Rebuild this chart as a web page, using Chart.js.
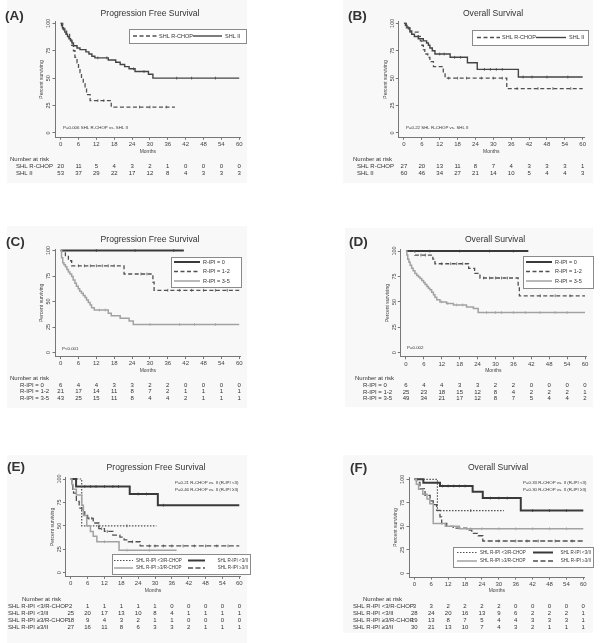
<!DOCTYPE html>
<html>
<head>
<meta charset="utf-8">
<script src="https://cdn.jsdelivr.net/npm/chart.js@4/dist/chart.umd.min.js"></script>
<style>
html, body { margin: 0; padding: 0; background: #fff; }
body { width: 602px; height: 643px; position: relative; overflow: hidden; }
.bg { position: absolute; background: #f8f8f8; }
canvas { position: absolute; }
</style>
</head>
<body>
<div class="bg" style="left:7px;top:0;width:240px;height:183px"></div>
<div class="bg" style="left:343px;top:0;width:250px;height:183px"></div>
<div class="bg" style="left:7px;top:226px;width:240px;height:182px"></div>
<div class="bg" style="left:345px;top:228px;width:248px;height:179px"></div>
<div class="bg" style="left:7px;top:455px;width:240px;height:188px"></div>
<div class="bg" style="left:343px;top:455px;width:250px;height:178px"></div>
<canvas id="cA"></canvas>
<canvas id="cB"></canvas>
<canvas id="cC"></canvas>
<canvas id="cD"></canvas>
<canvas id="cE"></canvas>
<canvas id="cF"></canvas>
<script>
// axis ticks
const monthTicks = [0, 6, 12, 18, 24, 30, 36, 42, 48, 54, 60];
const survTicks = [0, 25, 50, 75, 100];

// (A) PFS by treatment: time (months), survival (%), censor times
const aRchopT = [0, 0.7, 2, 3, 3.7, 4.3, 4.8, 5.5, 6, 6.5, 7, 7.6, 8.2, 8.7, 9.9, 17, 38.4];
const aRchopS = [100, 95, 90, 85, 80, 75, 69, 64, 59, 55, 50, 45, 40, 35, 29.5, 23.6, 23.6];
const aRchopC = [12.5, 14.5, 26.5, 30, 35.5];
const aIIT = [0, 0.3, 0.6, 1, 1.4, 1.8, 2.3, 2.8, 3.3, 3.8, 4.3, 5.5, 6.5, 8.5, 9.5, 10.5, 11.5, 16, 18.5, 20, 21.5, 23, 25, 29.5, 31, 60];
const aIIS = [100, 98, 96, 94, 92, 90, 88, 86, 84, 82, 79.5, 77.5, 76, 74, 72, 70, 68.5, 66.5, 64.5, 62.5, 60.5, 58.5, 56, 53.5, 50, 50];
const aIIC = [12.5, 15.5, 24.5, 28, 39, 44, 52];
const aRiskRchop = [20, 11, 5, 4, 3, 2, 1, 0, 0, 0, 0];
const aRiskII = [53, 37, 29, 22, 17, 12, 8, 4, 3, 3, 3];

// (B) OS by treatment
const bRchopT = [0, 0.8, 2, 4.8, 5.5, 6, 6.5, 7, 8, 8.7, 9.9, 13.2, 13.8, 34.5, 60];
const bRchopS = [100, 96, 92, 88, 84, 80, 76, 72, 69, 65, 60.5, 55, 50, 40.5, 40.5];
const bRchopC = [15, 18, 21, 26, 30, 33, 38, 45, 50, 56];
const bIIT = [0, 0.5, 1, 1.5, 2, 2.6, 3.5, 4.8, 6.5, 7.6, 8.2, 8.7, 9.5, 10.4, 15.5, 21.3, 24.6, 38.4, 60];
const bIIS = [100, 98, 96.5, 95, 93, 90, 88, 86, 84, 82, 80, 77.5, 75, 72, 69, 64, 58, 51, 51];
const bIIC = [12, 13.5, 17, 19, 27, 29, 31, 33, 40, 43, 48, 55];
const bRiskRchop = [27, 20, 13, 11, 8, 7, 4, 3, 3, 3, 1];
const bRiskII = [60, 46, 34, 27, 21, 14, 10, 5, 4, 4, 3];

// (C) PFS by R-IPI
const cIpi0T = [0, 41.4];
const cIpi0S = [100, 100];
const cIpi0C = [12, 25, 38];
const cIpi12T = [0, 1.6, 2.6, 3.7, 21.3, 31, 31.4, 60];
const cIpi12S = [100, 95, 90, 85, 77, 69, 61, 61];
const cIpi12C = [6, 8, 10, 12, 14, 16, 18, 27, 29, 36, 40, 44, 48, 52, 56];
const cIpi35T = [0, 0.3, 0.7, 1.1, 1.6, 2.1, 2.6, 3.1, 3.7, 4.2, 4.8, 5.3, 5.9, 6.4, 7, 7.6, 8.2, 8.7, 9.3, 9.9, 10.4, 11.3, 16, 17, 20, 23, 24.4, 60];
const cIpi35S = [100, 93, 88, 86, 84, 81.5, 79, 77, 74.5, 71, 68, 65, 62.5, 60, 58, 56, 54, 51.5, 49, 46.5, 44, 41.7, 38.5, 36, 33.5, 31, 27.5, 27.5];
const cIpi35C = [13, 15, 30, 40, 45, 52];
const cRisk0 = [6, 4, 4, 3, 3, 2, 2, 0, 0, 0, 0];
const cRisk12 = [21, 17, 14, 11, 8, 7, 2, 1, 1, 1, 1];
const cRisk35 = [43, 25, 15, 11, 8, 4, 4, 2, 1, 1, 1];

// (D) OS by R-IPI
const dIpi0T = [0, 41];
const dIpi0S = [100, 100];
const dIpi0C = [8, 18, 28, 36];
const dIpi12T = [0, 3, 9, 9.7, 21, 23, 24.8, 37.6, 38, 60];
const dIpi12S = [100, 96, 92, 87.5, 83, 78, 73.5, 65, 56, 56];
const dIpi12C = [5, 6.5, 12, 15, 17, 19, 26, 28, 30, 32, 34, 45, 50, 55];
const dIpi35T = [0, 0.3, 0.6, 1, 1.4, 1.9, 2.4, 3, 3.6, 4.2, 4.7, 5.3, 5.9, 6.4, 7, 7.5, 8, 8.6, 9.2, 9.7, 10.3, 11.4, 13.6, 15.9, 20.3, 22.6, 24.2, 60];
const dIpi35S = [100, 96, 92, 89, 86, 83, 80.5, 78, 76, 74.5, 73, 71, 69, 67, 65, 63.5, 62, 59.5, 57, 54.5, 52, 50, 48.5, 47, 45, 43.5, 39.5, 39.5];
const dIpi35C = [12, 14, 17, 19, 27, 30, 32, 36, 40, 45, 50, 54];
const dRisk0 = [6, 4, 4, 3, 3, 2, 2, 0, 0, 0, 0];
const dRisk12 = [25, 23, 18, 15, 12, 8, 4, 2, 2, 2, 1];
const dRisk35 = [49, 34, 21, 17, 12, 8, 7, 5, 4, 4, 2];

// (E) PFS by R-IPI and treatment
const eLoRchopT = [0, 3.9, 30.5];
const eLoRchopS = [100, 50, 50];
const eLoRchopC = [10, 20];
const eLoIIT = [0, 1.9, 21, 31, 60];
const eLoIIS = [100, 92, 84, 72, 72];
const eLoIIC = [5, 7, 9, 12, 15, 17, 24, 27, 33];
const eHiRchopT = [0, 0.4, 0.9, 2, 3.9, 4.5, 5.7, 7, 8, 9.3, 17.2, 37.7];
const eHiRchopS = [100, 94, 89, 83, 72, 61, 50, 44, 39, 33, 24, 24];
const eHiRchopC = [12, 20, 28];
const eHiIIT = [0, 0.4, 0.7, 1, 2, 3, 4, 5, 6, 8, 10, 12, 15, 17.5, 19, 20.5, 24.7, 60];
const eHiIIS = [100, 96, 89, 85, 76, 69, 65, 62, 58, 53, 47, 44, 40, 38, 35, 33, 28.5, 28.5];
const eHiIIC = [6.5, 7.5, 11, 13, 22, 28, 30, 33, 36, 40, 44, 48, 52, 56];
const eRisk1 = [2, 1, 1, 1, 1, 1, 0, 0, 0, 0, 0];
const eRisk2 = [25, 20, 17, 13, 10, 8, 4, 1, 1, 1, 1];
const eRisk3 = [18, 9, 4, 3, 2, 1, 1, 0, 0, 0, 0];
const eRisk4 = [27, 16, 11, 8, 6, 3, 3, 2, 1, 1, 1];

// (F) OS by R-IPI and treatment
const fLoRchopT = [0, 8.2, 31.8];
const fLoRchopS = [100, 66.7, 66.7];
const fLoRchopC = [20];
const fLoIIT = [0, 3.2, 9.1, 20.7, 24.3, 37.8, 60];
const fLoIIS = [100, 96.4, 92.9, 86.7, 80, 66.7, 66.7];
const fLoIIC = [10, 12, 14, 16, 18, 27, 30, 33, 42, 48, 54];
const fHiRchopT = [0, 0.7, 1.5, 3, 4.5, 5.5, 6.7, 11, 16, 60];
const fHiRchopS = [100, 94.7, 89.5, 84, 79, 74, 53, 50, 47.4, 47.4];
const fHiRchopC = [20, 24, 30, 36, 42, 48, 54];
const fHiIIT = [0, 0.8, 2, 3.8, 5.6, 6.7, 7.9, 9.1, 9.7, 11.5, 13.8, 18.6, 20.4, 22.7, 24.3, 60];
const fHiIIS = [100, 96.7, 90, 83, 77, 73, 67, 60, 53, 50, 48, 46, 42.5, 40, 34.4, 34.4];
const fHiIIC = [30, 36, 40, 44, 50, 56];
const fRisk1 = [3, 3, 2, 2, 2, 2, 0, 0, 0, 0, 0];
const fRisk2 = [28, 24, 20, 16, 13, 9, 6, 2, 2, 2, 1];
const fRisk3 = [19, 13, 8, 7, 5, 4, 4, 3, 3, 3, 1];
const fRisk4 = [30, 21, 13, 10, 7, 4, 3, 2, 1, 1, 1];

// line styles
const fam = '"Liberation Sans", Arial, sans-serif';
const textCol = '#333';
const axisCol = '#777';
const sDark = { color: '#444', width: 1.4, dash: [] };
const sThick = { color: '#3a3a3a', width: 2, dash: [] };
const sDash = { color: '#505050', width: 1.3, dash: [4, 2.5] };
const sLight = { color: '#a2a2a2', width: 1.5, dash: [] };
const sDot = { color: '#505050', width: 1.2, dash: [1.5, 1.5] };
const sLong = { color: '#505050', width: 1.3, dash: [5, 2.5] };

Chart.defaults.font.family = fam;
Chart.defaults.color = '#444';

// KM value in effect at time t (last step at or before t)
function survAt(T, S, t) {
  let v = S[0];
  for (let i = 0; i < T.length; i++) if (T[i] <= t) v = S[i];
  return v;
}

const ipiLabels = ['R-IPI = 0', 'R-IPI = 1-2', 'R-IPI = 3-5'];
const shlLabels = ['SHL R-IPI <3/R-CHOP', 'SHL R-IPI <3/II', 'SHL R-IPI \u22653/R-CHOP', 'SHL R-IPI \u22653/II'];

const panels = [
  {
    id: 'cA', x: 0, y: 0, w: 300, h: 190, area: { l: 55, t: 21.7, r: 240.7, b: 137.3 },
    letter: '(A)', lx: 5, ly: 16, title: 'Progression Free Survival', tx: 150, ty: 14,
    notes: [{ text: 'P=0.006 SHL R-CHOP vs. SHL II', x: 63, y: 128 }],
    series: [
      { T: aRchopT, S: aRchopS, C: aRchopC, st: sDash },
      { T: aIIT, S: aIIS, C: aIIC, st: sDark }
    ],
    legend: { box: [129, 29, 246, 43], size: 5.5, items: [
      { x1: 133, x2: 157, y: 36, st: sDash, text: 'SHL R-CHOP', tx: 159 },
      { x1: 193, x2: 222, y: 36, st: sDark, text: 'SHL II', tx: 225 }
    ] },
    risk: { hx: 10, hy: 159.3, lx: 16, rowY: [166.3, 173.3], labels: ['SHL R-CHOP', 'SHL II'], vals: [aRiskRchop, aRiskII] }
  },
  {
    id: 'cB', x: 300, y: 0, w: 302, h: 190, area: { l: 398.3, t: 21.7, r: 584.2, b: 137.3 },
    letter: '(B)', lx: 348, ly: 16.5, title: 'Overall Survival', tx: 493, ty: 14,
    notes: [{ text: 'P=0.22 SHL R-CHOP vs. SHL II', x: 406, y: 128 }],
    series: [
      { T: bRchopT, S: bRchopS, C: bRchopC, st: sDash },
      { T: bIIT, S: bIIS, C: bIIC, st: sDark }
    ],
    legend: { box: [472, 30, 588, 45], size: 5.5, items: [
      { x1: 477, x2: 500, y: 37.5, st: sDash, text: 'SHL R-CHOP', tx: 502 },
      { x1: 536, x2: 566, y: 37.5, st: sDark, text: 'SHL II', tx: 569 }
    ] },
    risk: { hx: 353, hy: 159.3, lx: 357, rowY: [166, 173], labels: ['SHL R-CHOP', 'SHL II'], vals: [bRiskRchop, bRiskII] }
  },
  {
    id: 'cC', x: 0, y: 215, w: 300, h: 195, area: { l: 55, t: 249, r: 240.7, b: 356.6 },
    letter: '(C)', lx: 6, ly: 242, title: 'Progression Free Survival', tx: 150, ty: 240,
    notes: [{ text: 'P<0.001', x: 62, y: 349 }],
    series: [
      { T: cIpi35T, S: cIpi35S, C: cIpi35C, st: sLight },
      { T: cIpi12T, S: cIpi12S, C: cIpi12C, st: sDash },
      { T: cIpi0T, S: cIpi0S, C: cIpi0C, st: sThick }
    ],
    legend: { box: [171, 257, 241, 287], size: 5.5, items: [
      { x1: 174, x2: 200, y: 262, st: sThick, text: ipiLabels[0], tx: 203 },
      { x1: 174, x2: 200, y: 271.5, st: sDash, text: ipiLabels[1], tx: 203 },
      { x1: 174, x2: 200, y: 281, st: sLight, text: ipiLabels[2], tx: 203 }
    ] },
    risk: { hx: 10, hy: 378.3, lx: 20, rowY: [385, 391.7, 398.3], labels: ipiLabels, vals: [cRisk0, cRisk12, cRisk35] }
  },
  {
    id: 'cD', x: 300, y: 215, w: 302, h: 195, area: { l: 400.3, t: 249.5, r: 586.5, b: 356.8 },
    letter: '(D)', lx: 349, ly: 242, title: 'Overall Survival', tx: 495, ty: 240,
    notes: [{ text: 'P=0.002', x: 407, y: 348 }],
    series: [
      { T: dIpi35T, S: dIpi35S, C: dIpi35C, st: sLight },
      { T: dIpi12T, S: dIpi12S, C: dIpi12C, st: sDash },
      { T: dIpi0T, S: dIpi0S, C: dIpi0C, st: sThick }
    ],
    legend: { box: [523, 256, 593, 288], size: 5.5, items: [
      { x1: 526, x2: 552, y: 262, st: sThick, text: ipiLabels[0], tx: 555 },
      { x1: 526, x2: 552, y: 271.5, st: sDash, text: ipiLabels[1], tx: 555 },
      { x1: 526, x2: 552, y: 281, st: sLight, text: ipiLabels[2], tx: 555 }
    ] },
    risk: { hx: 355, hy: 378.3, lx: 363, rowY: [385, 392, 398.5], labels: ipiLabels, vals: [dRisk0, dRisk12, dRisk35] }
  },
  {
    id: 'cE', x: 0, y: 430, w: 300, h: 213, area: { l: 65.4, t: 477.6, r: 240.7, b: 576.4 },
    letter: '(E)', lx: 7, ly: 467, title: 'Progression Free Survival', tx: 156, ty: 468,
    notes: [
      { text: 'P=0.21 R-CHOP vs. II (R-IPI <3)', x: 175, y: 483 },
      { text: 'P=0.46 R-CHOP vs. II (R-IPI \u22653)', x: 175, y: 489.5 }
    ],
    series: [
      { T: eHiRchopT, S: eHiRchopS, C: eHiRchopC, st: sLight },
      { T: eHiIIT, S: eHiIIS, C: eHiIIC, st: sLong },
      { T: eLoRchopT, S: eLoRchopS, C: eLoRchopC, st: sDot },
      { T: eLoIIT, S: eLoIIS, C: eLoIIC, st: sThick }
    ],
    legend: { box: [112, 554, 250, 574], size: 4.5, items: [
      { x1: 114, x2: 133, y: 560.5, st: sDot, text: shlLabels[0], tx: 136 },
      { x1: 188, x2: 205, y: 560.5, st: sThick, text: shlLabels[1], tx: 248, align: 'right' },
      { x1: 114, x2: 133, y: 568, st: sLight, text: shlLabels[2], tx: 136 },
      { x1: 188, x2: 205, y: 568, st: sLong, text: shlLabels[3], tx: 248, align: 'right' }
    ] },
    risk: { hx: 22, hy: 599.3, lx: 8, rowY: [606, 613, 620, 627], labels: shlLabels, vals: [eRisk1, eRisk2, eRisk3, eRisk4] }
  },
  {
    id: 'cF', x: 300, y: 430, w: 302, h: 213, area: { l: 409, t: 477.9, r: 584.7, b: 577.1 },
    letter: '(F)', lx: 350, ly: 468, title: 'Overall Survival', tx: 498, ty: 468,
    notes: [
      { text: 'P=0.33 R-CHOP vs. II (R-IPI <3)', x: 523, y: 483 },
      { text: 'P=0.30 R-CHOP vs. II (R-IPI \u22653)', x: 523, y: 489.5 }
    ],
    series: [
      { T: fHiRchopT, S: fHiRchopS, C: fHiRchopC, st: sLight },
      { T: fHiIIT, S: fHiIIS, C: fHiIIC, st: sLong },
      { T: fLoRchopT, S: fLoRchopS, C: fLoRchopC, st: sDot },
      { T: fLoIIT, S: fLoIIS, C: fLoIIC, st: sThick }
    ],
    legend: { box: [453, 547, 593, 567], size: 4.5, items: [
      { x1: 457, x2: 477, y: 552.5, st: sDot, text: shlLabels[0], tx: 480 },
      { x1: 533, x2: 553, y: 552.5, st: sThick, text: shlLabels[1], tx: 591, align: 'right' },
      { x1: 457, x2: 477, y: 561, st: sLight, text: shlLabels[2], tx: 480 },
      { x1: 533, x2: 553, y: 561, st: sLong, text: shlLabels[3], tx: 591, align: 'right' }
    ] },
    risk: { hx: 363, hy: 599.3, lx: 353, rowY: [606, 613, 620, 627], labels: shlLabels, vals: [fRisk1, fRisk2, fRisk3, fRisk4] }
  }
];

function panelText(p) {
  return {
    id: 'panelText',
    afterDraw(chart) {
      const ctx = chart.ctx, xs = chart.scales.x;
      const ox = p.x, oy = p.y;
      ctx.save();
      ctx.fillStyle = textCol;
      ctx.textBaseline = 'middle';
      ctx.textAlign = 'left';
      ctx.font = 'bold 13.5px ' + fam;
      ctx.fillText(p.letter, p.lx - ox, p.ly - oy);
      ctx.textAlign = 'center';
      ctx.font = '8.6px ' + fam;
      ctx.fillText(p.title, p.tx - ox, p.ty - oy);
      ctx.textAlign = 'left';
      ctx.font = '4.4px ' + fam;
      p.notes.forEach(n => ctx.fillText(n.text, n.x - ox, n.y - oy));

      // legend
      const lg = p.legend, b = lg.box;
      ctx.fillStyle = '#fff';
      ctx.fillRect(b[0] - ox, b[1] - oy, b[2] - b[0], b[3] - b[1]);
      ctx.strokeStyle = '#8a8a8a';
      ctx.lineWidth = 1;
      ctx.setLineDash([]);
      ctx.strokeRect(b[0] - ox + 0.5, b[1] - oy + 0.5, b[2] - b[0], b[3] - b[1]);
      ctx.font = lg.size + 'px ' + fam;
      lg.items.forEach(it => {
        ctx.strokeStyle = it.st.color;
        ctx.lineWidth = it.st.width;
        ctx.setLineDash(it.st.dash);
        ctx.beginPath();
        ctx.moveTo(it.x1 - ox, it.y - oy);
        ctx.lineTo(it.x2 - ox, it.y - oy);
        ctx.stroke();
        ctx.fillStyle = textCol;
        ctx.textAlign = it.align || 'left';
        ctx.fillText(it.text, it.tx - ox, it.y - oy);
      });
      ctx.setLineDash([]);

      // number at risk table
      const r = p.risk;
      ctx.fillStyle = textCol;
      ctx.font = '6px ' + fam;
      ctx.textAlign = 'left';
      ctx.fillText('Number at risk', r.hx - ox, r.hy - oy);
      r.labels.forEach((lab, i) => {
        const y = r.rowY[i] - oy;
        ctx.textAlign = 'left';
        ctx.fillText(lab, r.lx - ox, y);
        ctx.textAlign = 'center';
        r.vals[i].forEach((v, j) => ctx.fillText(String(v), xs.getPixelForValue(monthTicks[j]), y));
      });
      ctx.restore();
    }
  };
}

function makePanel(p) {
  const cv = document.getElementById(p.id);
  cv.width = p.w;
  cv.height = p.h;
  cv.style.left = p.x + 'px';
  cv.style.top = p.y + 'px';
  const yW = 16, xH = 17;
  const pad = {
    left: p.area.l - p.x - yW,
    top: p.area.t - p.y,
    right: p.x + p.w - p.area.r,
    bottom: p.y + p.h - p.area.b - xH
  };
  const datasets = [];
  p.series.forEach(s => {
    datasets.push({
      type: 'line',
      data: s.T.map((t, i) => ({ x: t, y: s.S[i] })),
      stepped: 'before', // horizontal first, then drop
      borderColor: s.st.color,
      borderWidth: s.st.width,
      borderDash: s.st.dash,
      pointRadius: 0,
      fill: false
    });
    datasets.push({
      type: 'scatter',
      data: s.C.map(t => ({ x: t, y: survAt(s.T, s.S, t) })),
      pointStyle: 'line',
      rotation: 90,
      pointRadius: 1.4,
      borderColor: s.st.color,
      borderWidth: 0.8
    });
  });
  new Chart(cv, {
    type: 'line',
    data: { datasets },
    options: {
      responsive: false,
      animation: false,
      layout: { padding: pad },
      plugins: { legend: { display: false }, tooltip: { enabled: false } },
      scales: {
        x: {
          type: 'linear', min: -1.9, max: 60.5,
          afterBuildTicks: s => { s.ticks = monthTicks.map(v => ({ value: v })); },
          afterFit: s => { s.height = xH; s.paddingLeft = 0; s.paddingRight = 0; },
          grid: { drawOnChartArea: false, tickLength: 2.5, color: axisCol },
          border: { color: axisCol },
          ticks: { font: { size: 6 }, color: '#444', padding: 1, maxRotation: 0, autoSkip: false },
          title: { display: true, text: 'Months', font: { size: 5 }, color: '#444', padding: 0 }
        },
        y: {
          type: 'linear', min: -4, max: 101.5,
          afterBuildTicks: s => { s.ticks = survTicks.map(v => ({ value: v })); },
          afterFit: s => { s.width = yW; s.paddingTop = 0; s.paddingBottom = 0; },
          grid: { drawOnChartArea: false, tickLength: 2.5, color: axisCol },
          border: { color: axisCol },
          ticks: { font: { size: 5.5 }, color: '#444', padding: -1, minRotation: 90, maxRotation: 90, crossAlign: 'center', autoSkip: false },
          title: { display: true, text: 'Percent surviving', font: { size: 5 }, color: '#444', padding: 0 }
        }
      }
    },
    plugins: [panelText(p)]
  });
}

panels.forEach(makePanel);
</script>
</body>
</html>
